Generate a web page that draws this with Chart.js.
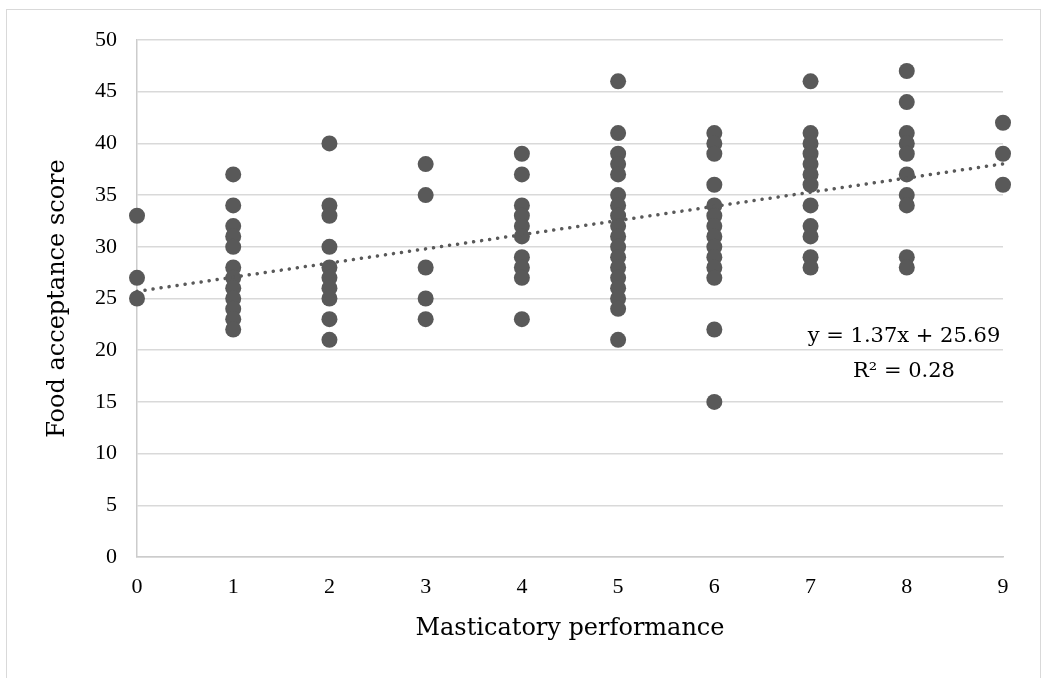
<!DOCTYPE html>
<html>
<head>
<meta charset="utf-8">
<script src="https://cdn.jsdelivr.net/npm/chart.js@4.4.1/dist/chart.umd.min.js"></script>
<style>
  html, body { margin: 0; padding: 0; background: #fff; }
  #wrap { position: relative; width: 1048px; height: 678px; overflow: hidden; }
  #frame { position: absolute; left: 6px; top: 9px; width: 1033px; height: 700px; border: 1px solid #d9d9d9; }
  canvas { position: absolute; left: 0; top: 0; }
</style>
</head>
<body>
<div id="wrap">
  <div id="frame"></div>
  <canvas id="scatterChart" width="1048" height="678"></canvas>
</div>
<script>
// food acceptance scores, grouped by masticatory performance (0..9)
const perf0 = [33, 27, 25];
const perf1 = [37, 34, 32, 31, 30, 28, 27, 26, 25, 24, 23, 22];
const perf2 = [40, 34, 33, 30, 28, 27, 26, 25, 23, 21];
const perf3 = [38, 35, 28, 25, 23];
const perf4 = [39, 37, 34, 33, 32, 31, 29, 28, 27, 23];
const perf5 = [46, 41, 39, 38, 37, 35, 34, 33, 32, 31, 30, 29, 28, 27, 26, 25, 24, 21];
const perf6 = [41, 40, 39, 36, 34, 33, 32, 31, 30, 29, 28, 27, 22, 15];
const perf7 = [46, 41, 40, 39, 38, 37, 36, 34, 32, 31, 29, 28];
const perf8 = [47, 44, 41, 40, 39, 37, 35, 34, 29, 28];
const perf9 = [42, 39, 36];

// linear trend line end points
const trendX = [0, 9];
const trendY = [25.69, 38.02];

const yTicks = [0, 5, 10, 15, 20, 25, 30, 35, 40, 45, 50];
const xTicks = [0, 1, 2, 3, 4, 5, 6, 7, 8, 9];

const equationText = 'y = 1.37x + 25.69';
const r2Text = 'R\u00B2 = 0.28';

// build the point list
const groups = [perf0, perf1, perf2, perf3, perf4, perf5, perf6, perf7, perf8, perf9];
const points = [];
groups.forEach((scores, mp) => {
  scores.forEach(s => points.push({ x: mp, y: s }));
});
const trendPoints = trendX.map((x, i) => ({ x: x, y: trendY[i] }));

const tickFont = { family: "'Liberation Serif', serif", size: 22 };
const titleFont = { family: "'DejaVu Serif', serif", size: 24 };

// draws the regression equation
const equationPlugin = {
  id: 'equation',
  afterDraw(chart) {
    const ctx = chart.ctx;
    ctx.save();
    ctx.fillStyle = '#000';
    ctx.font = "21px 'DejaVu Serif', serif";
    ctx.textAlign = 'center';
    ctx.textBaseline = 'alphabetic';
    ctx.fillText(equationText, 904, 342);
    ctx.fillText(r2Text, 904, 377);
    ctx.restore();
  }
};

const config = {
  type: 'scatter',
  data: {
    datasets: [
      {
        label: 'Trend',
        data: trendPoints,
        showLine: true,
        borderColor: '#595959',
        borderWidth: 3.5,
        borderDash: [0.1, 8],
        borderCapStyle: 'round',
        pointRadius: 0,
        fill: false,
        clip: false
      },
      {
        label: 'Scores',
        data: points,
        backgroundColor: '#595959',
        borderColor: '#595959',
        borderWidth: 0,
        pointRadius: 8,
        clip: false
      }
    ]
  },
  options: {
    responsive: false,
    animation: false,
    layout: { padding: { left: 0, top: 40, right: 45, bottom: 0 } },
    plugins: {
      legend: { display: false },
      tooltip: { enabled: false }
    },
    scales: {
      x: {
        type: 'linear',
        min: 0,
        max: 9,
        afterBuildTicks: s => { s.ticks = xTicks.map(v => ({ value: v })); },
        afterFit: s => { s.height = 121; },
        grid: { display: true, drawOnChartArea: false, drawTicks: false },
        border: { display: true, color: '#cccccc', width: 1.5 },
        ticks: { font: tickFont, color: '#000', padding: 17 },
        title: {
          display: true,
          text: 'Masticatory performance',
          font: titleFont,
          color: '#000',
          padding: { top: 0, bottom: 35 }
        }
      },
      y: {
        min: 0,
        max: 50,
        afterBuildTicks: s => { s.ticks = yTicks.map(v => ({ value: v })); },
        afterFit: s => { s.width = 137; },
        grid: { color: '#d9d9d9', lineWidth: 1.5, drawTicks: false },
        border: { display: true, color: '#cccccc', width: 1.5 },
        ticks: { font: tickFont, color: '#000', padding: 20 },
        title: {
          display: true,
          text: 'Food acceptance score',
          font: titleFont,
          color: '#000',
          padding: { top: 43, bottom: 0 }
        }
      }
    }
  },
  plugins: [equationPlugin]
};

const scatterChart = new Chart(document.getElementById('scatterChart'), config);
</script>
</body>
</html>
